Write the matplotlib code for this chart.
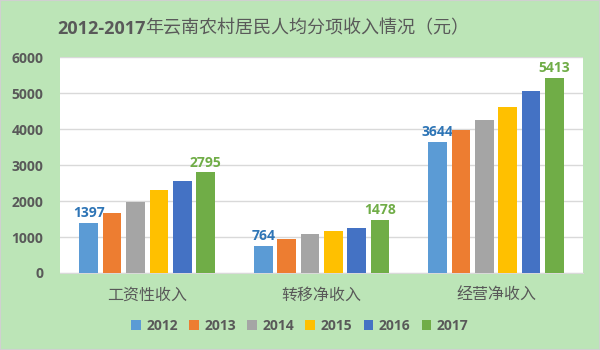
"""Grouped bars: per-capita rural income by source in Yunnan, 2012-2017."""

import matplotlib

matplotlib.use("Agg")
import matplotlib.pyplot as plt
from matplotlib.patches import Rectangle
import numpy as np

plt.rcParams["font.family"] = ["Noto Sans CJK SC", "DejaVu Sans"]

categories = ["工资性收入", "转移净收入", "经营净收入"]
years = ["2012", "2013", "2014", "2015", "2016", "2017"]
income = {
    "2012": [1397, 764, 3644],
    "2013": [1670, 947, 3977],
    "2014": [1985, 1086, 4245],
    "2015": [2318, 1170, 4615],
    "2016": [2550, 1262, 5060],
    "2017": [2795, 1478, 5413],
}
colors = ["#5B9BD5", "#ED7D31", "#A5A5A5", "#FFC000", "#4472C4", "#70AD47"]

BG = "#BCE5B7"
TEXT = "#595959"
NUM_FONT = ["Open Sans", "DejaVu Sans"]

fig = plt.figure(figsize=(6.0, 3.5), dpi=100, facecolor=BG)
fig.patches.append(Rectangle((0, 0), 1, 1, transform=fig.transFigure,
                             fill=False, edgecolor="#D0D0D0", linewidth=1.5))
ax = fig.add_axes([0.10, 0.22, 0.872, 0.617])
ax.set_facecolor("white")

x = np.arange(len(categories))
pitch = 0.134
width = 0.107
for i, (year, color) in enumerate(zip(years, colors)):
    pos = x + (i - 2.5) * pitch
    bars = ax.bar(pos, income[year], width, color=color, label=year, zorder=3)
    if year == "2012":
        ax.bar_label(bars, padding=2, color="#2E75B6", fontsize=10,
                     fontweight="bold", family=NUM_FONT)
    elif year == "2017":
        ax.bar_label(bars, padding=2, color="#70AD47", fontsize=10,
                     fontweight="bold", family=NUM_FONT)

ax.set_xlim(-0.5, 2.5)
ax.set_ylim(0, 6000)
ax.set_yticks(np.arange(0, 6001, 1000))
ax.grid(axis="y", color="#D9D9D9", linewidth=1, zorder=0)
for side in ["top", "right", "left"]:
    ax.spines[side].set_visible(False)
ax.spines["bottom"].set_color("#D9D9D9")
ax.tick_params(axis="both", length=0)
ax.tick_params(axis="y", pad=12, labelsize=10, labelcolor=TEXT)
ax.tick_params(axis="x", pad=10, labelsize=11.5, labelcolor=TEXT)
for lbl in ax.get_yticklabels():
    lbl.set_fontweight("bold")
    lbl.set_family(NUM_FONT)
ax.set_xticks(x)
ax.set_xticklabels(categories)

# title: bold year range followed by the regular-weight Chinese text
t1 = fig.text(0.095, 0.918, "2012-2017", ha="left", va="center", fontsize=13,
              fontweight="bold", color=TEXT, family=NUM_FONT)
fig.canvas.draw()
bb = t1.get_window_extent().transformed(fig.transFigure.inverted())
fig.text(bb.x1, 0.918, "年云南农村居民人均分项收入情况（元）", ha="left",
         va="center", fontsize=13, color=TEXT)

leg = fig.legend(loc="center", bbox_to_anchor=(0.5, 0.068), ncol=6,
                 frameon=False, handlelength=0.7, handleheight=0.7,
                 handletextpad=0.4, columnspacing=0.8,
                 prop={"family": NUM_FONT, "weight": "bold", "size": 10})
for t in leg.get_texts():
    t.set_color(TEXT)

fig.savefig("out.png", dpi=100, facecolor=BG)
